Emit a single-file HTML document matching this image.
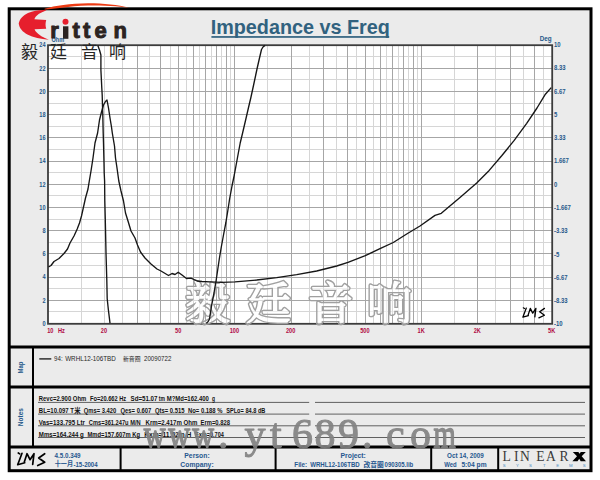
<!DOCTYPE html>
<html><head><meta charset="utf-8"><title>Impedance vs Freq</title>
<style>html,body{margin:0;padding:0;background:#fff;}body{width:600px;height:480px;overflow:hidden;font-family:"Liberation Sans",sans-serif;}</style></head>
<body>
<svg width="600" height="480" viewBox="0 0 600 480" style="display:block;font-family:'Liberation Sans',sans-serif">
<rect x="0" y="0" width="600" height="480" fill="#ffffff"/>
<rect x="9.2" y="8.8" width="581.8" height="461.9" fill="#ebebeb" stroke="#000" stroke-width="3"/>
<rect x="48.0" y="45.2" width="504.20000000000005" height="278.6" fill="#fff"/>
<g style="filter:blur(0.4px)">
<path d="M81.5 45.2V323.8M104.5 45.2V323.8M122.5 45.2V323.8M149.5 45.2V323.8M170.5 45.2V323.8M186.5 45.2V323.8M199.5 45.2V323.8M211.5 45.2V323.8M221.5 45.2V323.8M230.5 45.2V323.8M267.5 45.2V323.8M309.5 45.2V323.8M336.5 45.2V323.8M356.5 45.2V323.8M373.5 45.2V323.8M386.5 45.2V323.8M398.5 45.2V323.8M408.5 45.2V323.8M417.5 45.2V323.8M454.5 45.2V323.8M495.5 45.2V323.8M523.5 45.2V323.8M543.5 45.2V323.8M48.0 311.5H552.2M48.0 288.5H552.2M48.0 265.5H552.2M48.0 242.5H552.2M48.0 219.5H552.2M48.0 195.5H552.2M48.0 172.5H552.2M48.0 149.5H552.2M48.0 126.5H552.2M48.0 103.5H552.2M48.0 79.5H552.2M48.0 56.5H552.2" stroke="#d6d6d6" stroke-width="1" fill="none"/>
<path d="M137.5 45.2V323.8M160.5 45.2V323.8M178.5 45.2V323.8M193.5 45.2V323.8M205.5 45.2V323.8M216.5 45.2V323.8M226.5 45.2V323.8M234.5 45.2V323.8M291.5 45.2V323.8M323.5 45.2V323.8M347.5 45.2V323.8M365.5 45.2V323.8M380.5 45.2V323.8M392.5 45.2V323.8M403.5 45.2V323.8M413.5 45.2V323.8M421.5 45.2V323.8M477.5 45.2V323.8M510.5 45.2V323.8M534.5 45.2V323.8M48.0 300.5H552.2M48.0 277.5H552.2M48.0 253.5H552.2M48.0 230.5H552.2M48.0 207.5H552.2M48.0 184.5H552.2M48.0 161.5H552.2M48.0 137.5H552.2M48.0 114.5H552.2M48.0 91.5H552.2M48.0 68.5H552.2" stroke="#a6a6a6" stroke-width="1" fill="none"/>
</g>
<rect x="48.0" y="45.2" width="504.20000000000005" height="278.6" fill="none" stroke="#3c3c3c" stroke-width="1.8"/>
<defs><mask id="wmm" maskUnits="userSpaceOnUse" x="170" y="270" width="260" height="70"><rect x="170" y="270" width="260" height="70" fill="#000"/><text x="185 246 308 367" y="320" font-size="45" font-family="'Liberation Serif','Noto Serif CJK SC',serif" fill="#fff" stroke="#fff" stroke-width="4.0" stroke-linejoin="round">毅廷音响</text><text x="185 246 308 367" y="320" font-size="45" font-family="'Liberation Serif','Noto Serif CJK SC',serif" fill="#000" stroke="#000" stroke-width="1.2999999999999998" stroke-linejoin="round">毅廷音响</text></mask></defs><text x="185 246 308 367" y="320" font-size="45" font-family="'Liberation Serif','Noto Serif CJK SC',serif" fill="#fff" stroke="#fff" stroke-width="1.2999999999999998" stroke-linejoin="round" opacity="0.6">毅廷音响</text><rect x="170" y="270" width="260" height="70" fill="#a0a0a0" mask="url(#wmm)"/>
<path d="M48.5 267L51 265.5L54 261.5L59 258.5L64 253.5L67.5 249L70 243L74 236L77.2 229L79.5 223L81.5 216L83.5 207L85.5 198L88 189L89.3 181L91 171L93 158L95 143L97.6 133L99.5 120L101.5 112L103.5 105L105.5 101.5L107 100L108.5 108L110 118L111.5 127L112.3 133L114.5 146L115.5 158L117 168L118.8 181L121 191L123.5 201L125.5 213L128.3 222L131 231L135 238L137.5 245L140.5 252L145 258L151 264L157 269L161 271L168.5 275.5L172 273.5L175 274.5L178.2 272.2L182 275L186.5 278.5L191 278.2L197 281L202 281.5L210 281.9L222 282.3L235 281.8L256.7 280L276.7 277.7L296.7 274.7L316.7 271L336.7 266L348 262.4L365.3 255.7L380 248.7L393.3 242.5L406.7 234L420 226L435 215.4L441.3 213.3L447.5 208L460 197.5L476.7 183L489.2 170.4L501.7 155.8L514.2 140.4L526.7 123.3L537 108L545.4 94.2L551.2 87.6" stroke="#161616" stroke-width="1.35" fill="none" stroke-linejoin="round"/>
<path d="M97.8 45.5L99.5 50L100.9 55L100.9 70L101.4 80L101.8 88L102.2 95L102.5 106L102.8 115L103.2 133L103.5 143L104 163L104.2 173L104.6 181L104.8 201L105.2 216L105.5 229L106 253L106.8 280L107.2 298.8L108.4 310L110 323.2M206.3 323.2L208 321.8L209.5 319L211.5 306L214 293L216.2 280L219.3 259L221.3 247L223.5 235L225.8 223L227.6 212L229.6 199L232 186L234.3 175L237.6 157L240.2 143L242.6 133L245.4 121L248.4 108L251 97L253.6 85L257 69L259.5 58L261.5 49.5L263 47L265 45.4" stroke="#161616" stroke-width="1.35" fill="none" stroke-linejoin="round"/>
<text transform="translate(45.6 325.7) scale(0.8 1)" font-size="7" font-weight="bold" fill="#24588a" text-anchor="end">0</text>
<text transform="translate(45.6 302.5) scale(0.8 1)" font-size="7" font-weight="bold" fill="#24588a" text-anchor="end">2</text>
<text transform="translate(45.6 279.3) scale(0.8 1)" font-size="7" font-weight="bold" fill="#24588a" text-anchor="end">4</text>
<text transform="translate(45.6 256.1) scale(0.8 1)" font-size="7" font-weight="bold" fill="#24588a" text-anchor="end">6</text>
<text transform="translate(45.6 232.9) scale(0.8 1)" font-size="7" font-weight="bold" fill="#24588a" text-anchor="end">8</text>
<text transform="translate(45.6 209.7) scale(0.8 1)" font-size="7" font-weight="bold" fill="#24588a" text-anchor="end">10</text>
<text transform="translate(45.6 186.5) scale(0.8 1)" font-size="7" font-weight="bold" fill="#24588a" text-anchor="end">12</text>
<text transform="translate(45.6 163.3) scale(0.8 1)" font-size="7" font-weight="bold" fill="#24588a" text-anchor="end">14</text>
<text transform="translate(45.6 140.1) scale(0.8 1)" font-size="7" font-weight="bold" fill="#24588a" text-anchor="end">16</text>
<text transform="translate(45.6 116.9) scale(0.8 1)" font-size="7" font-weight="bold" fill="#24588a" text-anchor="end">18</text>
<text transform="translate(45.6 93.7) scale(0.8 1)" font-size="7" font-weight="bold" fill="#24588a" text-anchor="end">20</text>
<text transform="translate(45.6 70.5) scale(0.8 1)" font-size="7" font-weight="bold" fill="#24588a" text-anchor="end">22</text>
<text transform="translate(45.6 47.3) scale(0.8 1)" font-size="7" font-weight="bold" fill="#24588a" text-anchor="end">24</text>
<text transform="translate(554 47) scale(0.85 1)" font-size="7" font-weight="bold" fill="#24588a" text-anchor="start">10</text>
<text transform="translate(554 70.3) scale(0.85 1)" font-size="7" font-weight="bold" fill="#24588a" text-anchor="start">8.33</text>
<text transform="translate(554 93.5) scale(0.85 1)" font-size="7" font-weight="bold" fill="#24588a" text-anchor="start">6.67</text>
<text transform="translate(554 116.8) scale(0.85 1)" font-size="7" font-weight="bold" fill="#24588a" text-anchor="start">5</text>
<text transform="translate(554 140.1) scale(0.85 1)" font-size="7" font-weight="bold" fill="#24588a" text-anchor="start">3.33</text>
<text transform="translate(554 163.4) scale(0.85 1)" font-size="7" font-weight="bold" fill="#24588a" text-anchor="start">1.667</text>
<text transform="translate(554 186.6) scale(0.85 1)" font-size="7" font-weight="bold" fill="#24588a" text-anchor="start">0</text>
<text transform="translate(554 209.9) scale(0.85 1)" font-size="7" font-weight="bold" fill="#24588a" text-anchor="start">-1.667</text>
<text transform="translate(554 233.2) scale(0.85 1)" font-size="7" font-weight="bold" fill="#24588a" text-anchor="start">-3.33</text>
<text transform="translate(554 256.5) scale(0.85 1)" font-size="7" font-weight="bold" fill="#24588a" text-anchor="start">-5</text>
<text transform="translate(554 279.8) scale(0.85 1)" font-size="7" font-weight="bold" fill="#24588a" text-anchor="start">-6.67</text>
<text transform="translate(554 303) scale(0.85 1)" font-size="7" font-weight="bold" fill="#24588a" text-anchor="start">-8.33</text>
<text transform="translate(554 326.3) scale(0.85 1)" font-size="7" font-weight="bold" fill="#24588a" text-anchor="start">-10</text>
<text transform="translate(551.6 41.4) scale(0.9 1)" font-size="7" font-weight="bold" fill="#24588a" text-anchor="end">Deg</text>
<text transform="translate(51.5 41.6) scale(0.85 1)" font-size="6.5" font-weight="bold" fill="#24588a" text-anchor="start">Ohm</text>
<text transform="translate(47.2 332.5) scale(0.8 1)" font-size="7" font-weight="bold" fill="#b00a44" text-anchor="start">10</text>
<text transform="translate(58 332.5) scale(0.8 1)" font-size="7" font-weight="bold" fill="#b00a44" text-anchor="start">Hz</text>
<text transform="translate(103.9 332.5) scale(0.8 1)" font-size="7" font-weight="bold" fill="#b00a44" text-anchor="middle">20</text>
<text transform="translate(178.2 332.5) scale(0.8 1)" font-size="7" font-weight="bold" fill="#b00a44" text-anchor="middle">50</text>
<text transform="translate(234.4 332.5) scale(0.8 1)" font-size="7" font-weight="bold" fill="#b00a44" text-anchor="middle">100</text>
<text transform="translate(290.6 332.5) scale(0.8 1)" font-size="7" font-weight="bold" fill="#b00a44" text-anchor="middle">200</text>
<text transform="translate(364.9 332.5) scale(0.8 1)" font-size="7" font-weight="bold" fill="#b00a44" text-anchor="middle">500</text>
<text transform="translate(421.1 332.5) scale(0.8 1)" font-size="7" font-weight="bold" fill="#b00a44" text-anchor="middle">1K</text>
<text transform="translate(477.3 332.5) scale(0.8 1)" font-size="7" font-weight="bold" fill="#b00a44" text-anchor="middle">2K</text>
<text transform="translate(551.6 332.5) scale(0.8 1)" font-size="7" font-weight="bold" fill="#b00a44" text-anchor="middle">5K</text>
<text x="300.3" y="33.8" font-size="19.8" font-weight="bold" fill="#31627f" text-anchor="middle">Impedance vs Freq</text><rect x="211.4" y="36.1" width="177.8" height="1.7" fill="#31627f"/>
<text x="21 50 81 109" y="57.5" font-size="17" font-family="'Liberation Sans','Noto Sans CJK SC',sans-serif" fill="#262626">毅廷音响</text><path d="M46.6 10.2C41 9.6 34 10.4 28 13C23 15.4 19.6 19 18.7 23.6C19.4 28.4 22.6 32 27.4 34.6C33 37.6 41 39.2 48.8 39.8C43.6 37.8 38.6 35 36 31.8C35.2 30.8 34.8 30 34.6 29.3L46.2 28.7C45.3 25.6 45.4 22.8 46.2 19.9L34.4 19.3C34.8 17.6 36.4 15.6 39 13.8C41.2 12.4 43.8 11.2 46.6 10.2Z" fill="#e61f2d"/><path d="M44.6 8.7C55 5.6 70 3.4 88 3.2C104 3.2 118 4.9 129 7.6C118 6.3 104 5.5 88 5.5C78 5.6 70 6.6 62 7.8C56 8.6 50 9.2 44.6 9.4Z" fill="#ec3b14"/><text x="50.2 72.5 83.1 94.4 113.5" y="38.3" font-size="22" font-weight="bold" font-family="'Liberation Sans',sans-serif" fill="#2b2321" stroke="#2b2321" stroke-width="1.0" stroke-linejoin="round">rtten</text><rect x="63" y="26.3" width="5.4" height="12.5" fill="#2b2321"/><circle cx="65.5" cy="21.8" r="3" fill="#e61f2d"/>
<path d="M9 347.1H591M9 386.9H591M9 446.9H591" stroke="#000" stroke-width="3" fill="none"/>
<path d="M33 347V447M120.6 447V470M275.6 447V470M431.2 447V470M498.2 447V470" stroke="#000" stroke-width="2" fill="none"/>
<text transform="translate(22.6 367.5) rotate(-90) scale(0.85 1)" font-size="7" font-weight="bold" fill="#24588a" text-anchor="middle">Map</text>
<text transform="translate(22.7 417.1) rotate(-90) scale(0.93 1)" font-size="7" font-weight="bold" fill="#24588a" text-anchor="middle">Notes</text>
<path d="M39.3 358.9H51.3" stroke="#222" stroke-width="1.4"/>
<text x="54" y="361" font-size="7.2" fill="#262626" textLength="8.6" lengthAdjust="spacingAndGlyphs">94:</text><text x="65.2" y="361" font-size="7.2" fill="#262626" textLength="50.6" lengthAdjust="spacingAndGlyphs">WRHL12-106TBD</text>
<text x="123" y="361.1" font-size="6" font-family="'Liberation Sans','Noto Sans CJK SC',sans-serif" fill="#262626" textLength="17.5" lengthAdjust="spacingAndGlyphs">新音圈</text>
<text x="144" y="361" font-size="7.2" fill="#262626" textLength="27.3" lengthAdjust="spacingAndGlyphs">20090722</text>
<path d="M38 402.4H309.2M315 402.4H585M38 414.1H309.2M315 414.1H585M38 425.8H309.2M315 425.8H585M38 437.5H309.2M315 437.5H585" stroke="#606060" stroke-width="1" fill="none"/>
<text x="38.8" y="401.4" font-size="6.7" font-weight="bold" fill="#111" textLength="47.5" lengthAdjust="spacingAndGlyphs">Revc=2.900 Ohm</text>
<text x="90" y="401.4" font-size="6.7" font-weight="bold" fill="#111" textLength="36.2" lengthAdjust="spacingAndGlyphs">Fo=20.662 Hz</text>
<text x="130.5" y="401.4" font-size="6.7" font-weight="bold" fill="#111" textLength="27" lengthAdjust="spacingAndGlyphs">Sd=51.07</text>
<text x="158.8" y="401.4" font-size="6.7" font-weight="bold" fill="#111" textLength="6.2" lengthAdjust="spacingAndGlyphs">tm</text>
<text x="166.8" y="401.4" font-size="6.7" font-weight="bold" fill="#111" textLength="42" lengthAdjust="spacingAndGlyphs">M?Md=162.400</text>
<text x="212" y="401.4" font-size="6.7" font-weight="bold" fill="#111" textLength="3" lengthAdjust="spacingAndGlyphs">g</text>
<text x="38.8" y="413.1" font-size="6.7" font-weight="bold" fill="#111" textLength="35.2" lengthAdjust="spacingAndGlyphs">BL=10.097 T</text>
<text x="83.8" y="413.1" font-size="6.7" font-weight="bold" fill="#111" textLength="32.5" lengthAdjust="spacingAndGlyphs">Qms= 3.420</text>
<text x="120.5" y="413.1" font-size="6.7" font-weight="bold" fill="#111" textLength="30.8" lengthAdjust="spacingAndGlyphs">Qes= 0.607</text>
<text x="155" y="413.1" font-size="6.7" font-weight="bold" fill="#111" textLength="29.5" lengthAdjust="spacingAndGlyphs">Qts= 0.515</text>
<text x="188" y="413.1" font-size="6.7" font-weight="bold" fill="#111" textLength="34.5" lengthAdjust="spacingAndGlyphs">No= 0.188 %</text>
<text x="226.2" y="413.1" font-size="6.7" font-weight="bold" fill="#111" textLength="39.2" lengthAdjust="spacingAndGlyphs">SPLo= 84.8 dB</text>
<text x="38.8" y="424.9" font-size="6.7" font-weight="bold" fill="#111" textLength="46.2" lengthAdjust="spacingAndGlyphs">Vas=133.795 Ltr</text>
<text x="88.8" y="424.9" font-size="6.7" font-weight="bold" fill="#111" textLength="51.8" lengthAdjust="spacingAndGlyphs">Cms=361.247u M/N</text>
<text x="145.5" y="424.9" font-size="6.7" font-weight="bold" fill="#111" textLength="52" lengthAdjust="spacingAndGlyphs">Krm=2.417m Ohm</text>
<text x="200.5" y="424.9" font-size="6.7" font-weight="bold" fill="#111" textLength="29.5" lengthAdjust="spacingAndGlyphs">Erm=0.828</text>
<text x="38.8" y="436.6" font-size="6.7" font-weight="bold" fill="#111" textLength="45" lengthAdjust="spacingAndGlyphs">Mms=164.244 g</text>
<text x="87.5" y="436.6" font-size="6.7" font-weight="bold" fill="#111" textLength="52.5" lengthAdjust="spacingAndGlyphs">Mmd=157.607m Kg</text>
<text x="144.2" y="436.6" font-size="6.7" font-weight="bold" fill="#111" textLength="47.2" lengthAdjust="spacingAndGlyphs">Kxm=11.52m H</text>
<text x="195" y="436.6" font-size="6.7" font-weight="bold" fill="#111" textLength="28.8" lengthAdjust="spacingAndGlyphs">Exm=0.704</text>
<text x="74.3" y="413.2" font-size="6.4" font-weight="bold" font-family="'Liberation Sans','Noto Sans CJK SC',sans-serif" fill="#111">米</text>
<text x="54.5" y="457.7" font-size="7" font-weight="bold" fill="#26578f" textLength="26.1" lengthAdjust="spacingAndGlyphs">4.5.0.349</text>
<text x="73.4" y="466.9" font-size="7" font-weight="bold" fill="#26578f" textLength="24.2" lengthAdjust="spacingAndGlyphs">-15-2004</text>
<text x="54.7" y="466.4" font-size="6.4" font-weight="bold" font-family="'Liberation Sans','Noto Sans CJK SC',sans-serif" fill="#26578f" textLength="18.4" lengthAdjust="spacingAndGlyphs">十一月</text>
<text transform="translate(197 457.6) scale(0.92 1)" font-size="7.4" font-weight="bold" fill="#26578f" text-anchor="middle">Person:</text>
<text transform="translate(197 467.4) scale(0.92 1)" font-size="7.4" font-weight="bold" fill="#26578f" text-anchor="middle">Company:</text>
<text transform="translate(353.2 457.6) scale(0.92 1)" font-size="7.4" font-weight="bold" fill="#26578f" text-anchor="middle">Project:</text>
<text x="294.3" y="467.1" font-size="7.2" font-weight="bold" fill="#26578f" textLength="12.9" lengthAdjust="spacingAndGlyphs">File:</text>
<text x="310.2" y="467.1" font-size="7.2" font-weight="bold" fill="#26578f" textLength="49.5" lengthAdjust="spacingAndGlyphs">WRHL12-106TBD</text>
<text x="384.6" y="467.1" font-size="7.2" font-weight="bold" fill="#26578f" textLength="28.7" lengthAdjust="spacingAndGlyphs">090305.lib</text>
<text x="447" y="457.6" font-size="7" font-weight="bold" fill="#26578f" textLength="36.7" lengthAdjust="spacingAndGlyphs">Oct 14, 2009</text>
<text x="444.2" y="466.6" font-size="7" font-weight="bold" fill="#26578f" textLength="12.4" lengthAdjust="spacingAndGlyphs">Wed</text>
<text x="461.4" y="466.6" font-size="7" font-weight="bold" fill="#26578f" textLength="25.2" lengthAdjust="spacingAndGlyphs">5:04 pm</text>
<text x="363.5" y="467" font-size="6.7" font-weight="bold" font-family="'Liberation Sans','Noto Sans CJK SC',sans-serif" fill="#26578f" textLength="20.2" lengthAdjust="spacingAndGlyphs">改音圈</text><text x="502.4 513.9 519.9 536.3 546 559.5" y="461.1" font-size="13.6" font-family="'Liberation Serif',serif" fill="#3a3a3a">LINEAR</text><path d="M572.8 451.9H578.4L579.5 453.8L580.8 451.9H585.8L581.7 456.3L586 461.2H580.7L579.2 458.8L577.5 461.2H572.4L577 456.3Z" fill="#000"/><text x="502.7 516 529.1 543 556.2 569 582.7" y="466.9" font-size="4.3" font-family="'Liberation Sans',sans-serif" fill="#4a8cc4">SYSTEMS</text>
<path transform="translate(17 452) scale(1) translate(-17 -452)" d="M18.3 453L19.7 453.9M22 453.3L17.7 464.7L24.7 462.7M24.3 462L27 453.7L30 459.7L34 453.7L32.7 464.3M44.7 453.7L38.7 458L44.7 462.3L37.7 465.5" stroke="#000" stroke-width="1.7" fill="none" stroke-linecap="round" stroke-linejoin="round"/><path transform="translate(522.3 307) scale(0.8) translate(-17 -452)" d="M18.3 453L19.7 453.9M22 453.3L17.7 464.7L24.7 462.7M24.3 462L27 453.7L30 459.7L34 453.7L32.7 464.3M44.7 453.7L38.7 458L44.7 462.3L37.7 465.5" stroke="#000" stroke-width="1.6" fill="none" stroke-linecap="round" stroke-linejoin="round"/>
<g fill="#838383" stroke="#838383" stroke-linejoin="round" opacity="0.93" font-family="'Liberation Serif',serif" font-size="42"><text transform="translate(143.7 448.1) scale(0.72 1)" x="0 34.2 67.5" y="0" stroke-width="1.4">www</text><text x="218 244.5 270 292 314.5 338 362 386 410" y="448.1" stroke-width="1.0">.yt689.co</text><text transform="translate(433.5 448.1) scale(0.68 1)" x="0" y="0" stroke-width="1.5">m</text></g>
</svg>
</body></html>
